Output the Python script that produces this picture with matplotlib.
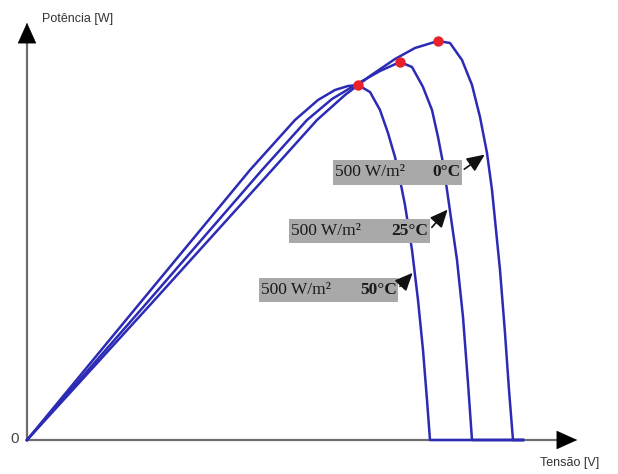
import matplotlib
matplotlib.use("Agg")
import matplotlib.pyplot as plt
from matplotlib.patches import Rectangle

# P-V curves of a PV module at 500 W/m2 for three cell temperatures
temperatures = ["0°C", "25°C", "50°C"]

voltage_0c = [0, 4.92, 9.8, 11.6, 12.72, 13.72, 14.72, 15.52, 16.44, 16.92, 17.4,
              17.8, 18.12, 18.4, 18.6, 18.76, 18.92, 19.12, 19.28, 19.44, 19.84]
power_0c = [0, 33.75, 67.5, 80, 86.25, 91, 95.25, 98, 99.75, 99.25, 95,
            88.75, 80.75, 71.75, 62.5, 52.5, 42.5, 26.75, 12.5, 0, 0]

voltage_25c = [0, 4.72, 9.4, 11.2, 12.2, 13.2, 14.12, 14.92, 15.4, 15.84, 16.2,
               16.44, 16.64, 16.8, 17.0, 17.2, 17.44, 17.64, 17.8, 19.84]
power_25c = [0, 33.75, 67.5, 80, 85.25, 89, 92.25, 94.5, 93.25, 88.25, 82.5,
             75.75, 69.25, 62.5, 53.75, 45, 30.75, 14.25, 0, 0]

voltage_50c = [0, 4.52, 8.92, 10.72, 11.64, 12.32, 12.84, 13.24, 13.72, 14.12, 14.44,
               14.72, 14.92, 15.12, 15.4, 15.64, 15.84, 16.0, 16.12, 19.84]
power_50c = [0, 34.25, 67.5, 80, 85, 87.5, 88.5, 88.75, 87, 82.5, 76.75,
             70.75, 65, 58.75, 47.5, 35, 22.5, 10, 0, 0]

curves = [
    (voltage_0c, power_0c),
    (voltage_25c, power_25c),
    (voltage_50c, power_50c),
]

# label box (left V, right V, centre P) and arrow target V for each curve
label_boxes = [(12.24, 17.4, 66.9, 18.4), (10.48, 16.12, 52.25, 16.9), (9.28, 14.84, 37.5, 15.5)]

line_color = "#2b2bb5"
axis_color = "#6e6e6e"

fig = plt.figure(figsize=(6.18, 4.74), dpi=100)
W, H = 618, 474
ax = fig.add_axes([27 / W, 34 / H, (580 - 27) / W, (440 - 20) / H])
ax.set_xlim(0, 22.12)
ax.set_ylim(0, 105)
ax.axis("off")

# axes drawn as arrows from the origin
ax.plot([0, 21.5], [0, 0], color=axis_color, lw=1.6, clip_on=False, zorder=1)
ax.plot([0, 0], [0, 102], color=axis_color, lw=1.6, clip_on=False, zorder=1)
ax.annotate("", xy=(1, 0), xytext=(0.965, 0), xycoords="axes fraction",
            arrowprops=dict(arrowstyle="-|>,head_length=1.0,head_width=0.45",
                        color="black", lw=0.5, mutation_scale=14))
ax.annotate("", xy=(0, 1), xytext=(0, 0.955), xycoords="axes fraction",
            arrowprops=dict(arrowstyle="-|>,head_length=1.0,head_width=0.45",
                        color="black", lw=0.5, mutation_scale=14))

for (v, p) in curves:
    ax.plot(v, p, color=line_color, lw=1.8, solid_joinstyle="round", zorder=3, clip_on=False)
    k = p.index(max(p))
    ax.plot(v[k], p[k], "o", color="#e8212b", ms=7.5, mec="none", zorder=4)

for (left, right, mid, target), temp, (v, p) in zip(label_boxes, temperatures, curves):
    h = 6.2
    ax.add_patch(Rectangle((left, mid - h / 2), right - left, h,
                           facecolor="#a9a9a9", edgecolor="none", zorder=5))
    ax.text(left + 0.08, mid, "500 W/m²", family="Liberation Serif", fontsize=12.5,
            va="center", ha="left", color="#1a1a1a", zorder=6)
    ax.text(right - 0.05, mid, temp, family="Liberation Serif", fontsize=12.5,
            fontweight="bold", va="center", ha="right", color="#1a1a1a", zorder=6)
    # arrow from the box to the curve
    i = next(j for j in range(1, len(v)) if v[j] >= target and p[j] < p[j - 1])
    frac = (target - v[i - 1]) / (v[i] - v[i - 1])
    py = p[i - 1] + frac * (p[i] - p[i - 1])
    ax.annotate("", xy=(target, py), xytext=(right, mid + 0.4),
                arrowprops=dict(arrowstyle="-|>,head_length=0.9,head_width=0.4",
                                color="#111111", lw=1.2, mutation_scale=12),
                zorder=6)

fig.text(42 / W, 1 - 19 / H, "Potência [W]", family="Liberation Sans", fontsize=9,
         color="#333333", va="center", ha="left")
fig.text(540 / W, 1 - 463 / H, "Tensão [V]", family="Liberation Sans", fontsize=9,
         color="#333333", va="center", ha="left")
fig.text(10 / W, 1 - 439 / H, "0", family="Liberation Sans", fontsize=11,
         color="#444444", va="center", ha="left")

fig.savefig("out.png", dpi=100, facecolor="white")
